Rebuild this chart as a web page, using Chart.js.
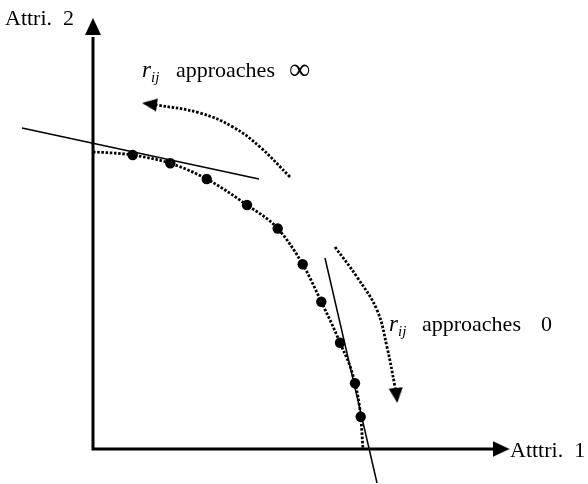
<!DOCTYPE html>
<html><head><meta charset="utf-8">
<script src="https://cdn.jsdelivr.net/npm/chart.js@4.4.0/dist/chart.umd.min.js"></script>
<style>html,body{margin:0;padding:0;background:#fff;}#wrap{width:588px;height:484px;}</style>
</head><body><div id="wrap"><canvas id="c" width="588" height="484"></canvas></div>
<script>
// axis titles and annotation words
const axisTitles = ['Atttri.  1', 'Attri.  2'];
const annoWord = 'approaches';
const annoLimits = ['\u221E', '0'];

// Pareto-front solutions (Attri. 1, Attri. 2)
const paretoX = [3.97, 7.73, 11.37, 15.4, 18.47, 20.97, 22.83, 24.7, 26.2, 26.77];
const paretoY = [29.4, 28.57, 27.0, 24.4, 22.05, 18.47, 14.73, 10.63, 6.57, 3.23];

// dotted front curve
const frontX = [0, 2.0, 3.97, 7.73, 11.37, 15.4, 18.47, 20.97, 22.83, 24.7, 26.2, 26.77, 27.0];
const frontY = [29.7, 29.6, 29.4, 28.57, 27.0, 24.4, 22.05, 18.47, 14.73, 10.63, 6.57, 3.23, 0];

// tangent lines
const tan1X = [-7.1, 16.6];
const tan1Y = [32.1, 27.0];
const tan2X = [23.2, 28.4];
const tan2Y = [19.1, -3.4];

// curved arrows
const arc1X = [19.7, 16.7, 14.0, 10.7, 6.4, 5.2];
const arc1Y = [27.2, 30.2, 32.2, 33.6, 34.4, 34.55];
const arc2X = [24.2, 26.4, 28.4, 29.4, 30.2, 30.4];
const arc2Y = [20.2, 17.2, 13.9, 10.2, 6.2, 5.0];

// axes (drawn as a polyline) and arrow heads
const axesX = [0, 0, 40.2];
const axesY = [41.2, 0, 0];
const headX = [0, 40.8, 5.65, 30.35];
const headY = [42.25, 0, 34.5, 5.35];
const headRot = [0, 90, 278, 174];

const pts = (xs, ys) => xs.map((x, i) => ({x, y: ys[i]}));

function arrowHead(w, h) {
  const c = document.createElement('canvas');
  c.width = w; c.height = h;
  const g = c.getContext('2d');
  g.fillStyle = '#000';
  g.beginPath();
  g.moveTo(w / 2, 0);
  g.lineTo(w, h);
  g.lineTo(0, h);
  g.closePath();
  g.fill();
  return c;
}
const headStyles = [arrowHead(16, 17), arrowHead(16, 17), arrowHead(13, 15), arrowHead(14, 15)];

const textPlugin = {
  id: 'texts',
  afterDatasetsDraw(chart) {
    const ctx = chart.ctx, sx = chart.scales.x, sy = chart.scales.y;
    const P = (x, y) => [sx.getPixelForValue(x), sy.getPixelForValue(y)];
    ctx.save();
    ctx.fillStyle = '#000';
    ctx.textBaseline = 'alphabetic';
    ctx.textAlign = 'left';
    const serif = '"Liberation Serif", "Times New Roman", serif';
    ctx.font = '22px ' + serif;
    let p = P(-8.8, 42.4);
    ctx.fillText(axisTitles[1], p[0], p[1]);
    p = P(41.7, -0.8);
    ctx.fillText(axisTitles[0], p[0], p[1]);

    const rij = (x, y) => {
      ctx.font = 'italic 23px ' + serif;
      ctx.fillText('r', x, y);
      ctx.font = 'italic 15px ' + serif;
      ctx.fillText('ij', x + 9, y + 5);
    };
    // top annotation
    p = P(4.9, 37.2);
    rij(p[0], p[1]);
    ctx.font = '22px ' + serif;
    ctx.fillText(annoWord, p[0] + 34, p[1]);
    ctx.font = '30px ' + serif;
    ctx.fillText(annoLimits[0], p[0] + 147, p[1] + 2);
    // right annotation
    p = P(29.6, 11.8);
    rij(p[0], p[1]);
    ctx.font = '22px ' + serif;
    ctx.fillText(annoWord, p[0] + 33, p[1]);
    ctx.fillText(annoLimits[1], p[0] + 152, p[1]);
    ctx.restore();
  }
};

const dotted = {borderColor: '#000', borderWidth: 2.8, borderDash: [2.5, 1.7], pointRadius: 0, showLine: true, fill: false};

new Chart(document.getElementById('c'), {
  type: 'scatter',
  data: {
    datasets: [
      Object.assign({data: pts(frontX, frontY), cubicInterpolationMode: 'monotone'}, dotted),
      Object.assign({data: pts(arc1X, arc1Y), tension: 0.4}, dotted),
      Object.assign({data: pts(arc2X, arc2Y), tension: 0.4}, dotted),
      {data: pts(tan1X, tan1Y), showLine: true, borderColor: '#000', borderWidth: 1.5, pointRadius: 0},
      {data: pts(tan2X, tan2Y), showLine: true, borderColor: '#000', borderWidth: 1.5, pointRadius: 0},
      {data: pts(axesX, axesY), showLine: true, borderColor: '#000', borderWidth: 3, pointRadius: 0, borderJoinStyle: 'miter', borderCapStyle: 'butt'},
      {data: pts(paretoX, paretoY), showLine: false, pointRadius: 5.2, pointBackgroundColor: '#000', pointBorderColor: '#000', pointBorderWidth: 0},
      {data: pts(headX, headY), showLine: false, pointStyle: headStyles, pointRadius: 9, pointRotation: headRot,
       pointBackgroundColor: '#000', pointBorderColor: '#000', pointBorderWidth: 0}
    ]
  },
  options: {
    responsive: false,
    animation: false,
    events: [],
    layout: {padding: 0, autoPadding: false},
    plugins: {legend: {display: false}, tooltip: {enabled: false}},
    scales: {
      x: {type: 'linear', display: false, min: -9.3, max: 49.5},
      y: {type: 'linear', display: false, min: -3.5, max: 44.9}
    }
  },
  plugins: [textPlugin]
});
</script>
</body></html>
